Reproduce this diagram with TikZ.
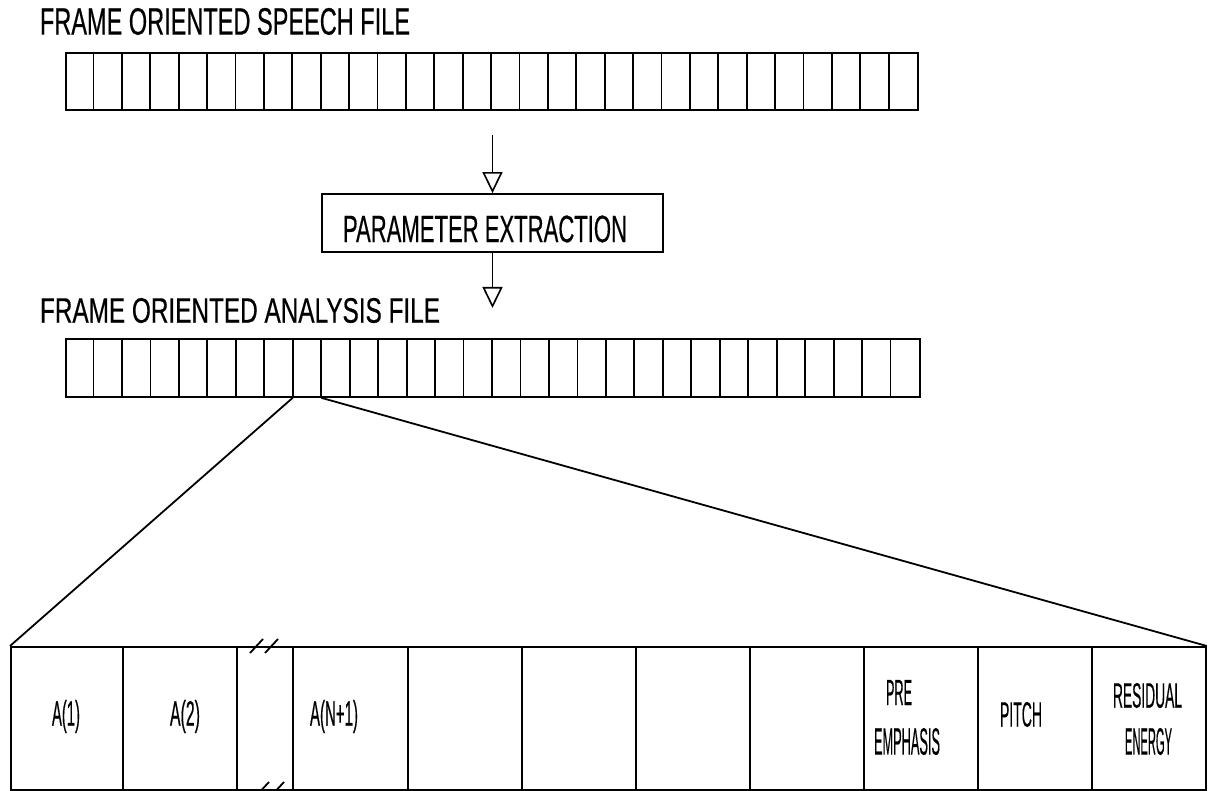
\documentclass[tikz,border=0pt]{standalone}
\usepackage{fontspec}
\setsansfont[FakeBold=0.6]{Liberation Sans}
\usepackage{graphicx}
\usetikzlibrary{arrows.meta}
\newcommand{\plt}[3]{\resizebox*{#1pt}{#2pt}{\sffamily #3}}
\tikzset{
  every path/.style={line width=1.8pt},
  lbl/.style={inner sep=0pt, outer sep=0pt},
  strip/.style={draw, inner sep=0pt, anchor=north west},
  flowarrow/.style={-{Triangle[open, length=21pt, width=20pt, line width=1.6pt]}},
}
\begin{document}
\begin{tikzpicture}[x=1pt, y=-1pt]
\useasboundingbox (0,0) rectangle (1213,791);
\fill[white] (0,0) rectangle (1213,791);

% titles
\node[lbl] (t1) at (225,21.5) {\plt{370}{27}{FRAME ORIENTED SPEECH FILE}};
\node[lbl] (t2) at (240,310.5) {\plt{400}{25}{FRAME ORIENTED ANALYSIS FILE}};

% speech file strip
\node[strip, minimum width=852pt, minimum height=57pt] (sfile) at (65,52) {};
\foreach \i in {1,...,29}
  \draw ([xshift=\i*28.4pt]sfile.north west) -- ([xshift=\i*28.4pt]sfile.south west);

% parameter extraction
\node[draw, inner sep=0pt, minimum width=341pt, minimum height=58pt] (pbox) at (492.5,223) {};
\node[lbl] (ptext) at (485,229) {\plt{284}{27}{PARAMETER EXTRACTION}};
\coordinate (a1) at (492.5,135);
\coordinate (a2) at (492.5,308);
\draw[flowarrow] (a1) -- (pbox.north);
\draw[flowarrow] (pbox.south) -- (a2);

% analysis file strip
\node[strip, minimum width=854pt, minimum height=58pt] (afile) at (65,338) {};
\foreach \i in {1,...,29}
  \draw ([xshift=\i*28.467pt]afile.north west) -- ([xshift=\i*28.467pt]afile.south west);
\coordinate (selL) at ([xshift=8*28.467pt]afile.south west);
\coordinate (selR) at ([xshift=9*28.467pt]afile.south west);

% expanded frame
\node[strip, minimum width=1195pt, minimum height=143pt] (frame) at (10,646) {};
\foreach \x in {123,237,293,408,522,636,750,864,978,1092}
  \draw (\x,646) -- (\x,789);
% break marks
\draw (250,653) -- (263,639);
\draw (265,653) -- (278,639);
\draw (256,796) -- (269,782);
\draw (271,796) -- (284,782);

\draw (selL) -- (frame.north west);
\draw (selR) -- (frame.north east);

% cell labels
\node[lbl] (c1) at (66,716.5) {\plt{28}{33}{A(1)}};
\node[lbl] (c2) at (185,716.5) {\plt{30}{33}{A(2)}};
\node[lbl] (c3) at (334,716.5) {\plt{48}{33}{A(N+1)}};
\node[lbl] (c9a) at (899,692.5) {\plt{26}{25}{PRE}};
\node[lbl] (c9b) at (907,741.5) {\plt{66}{27}{EMPHASIS}};
\node[lbl] (c10) at (1021,714.5) {\plt{42}{25}{PITCH}};
\node[lbl] (c11a) at (1147.5,695.5) {\plt{69}{25}{RESIDUAL}};
\node[lbl] (c11b) at (1148.5,741.5) {\plt{47}{27}{ENERGY}};
\end{tikzpicture}
\end{document}
